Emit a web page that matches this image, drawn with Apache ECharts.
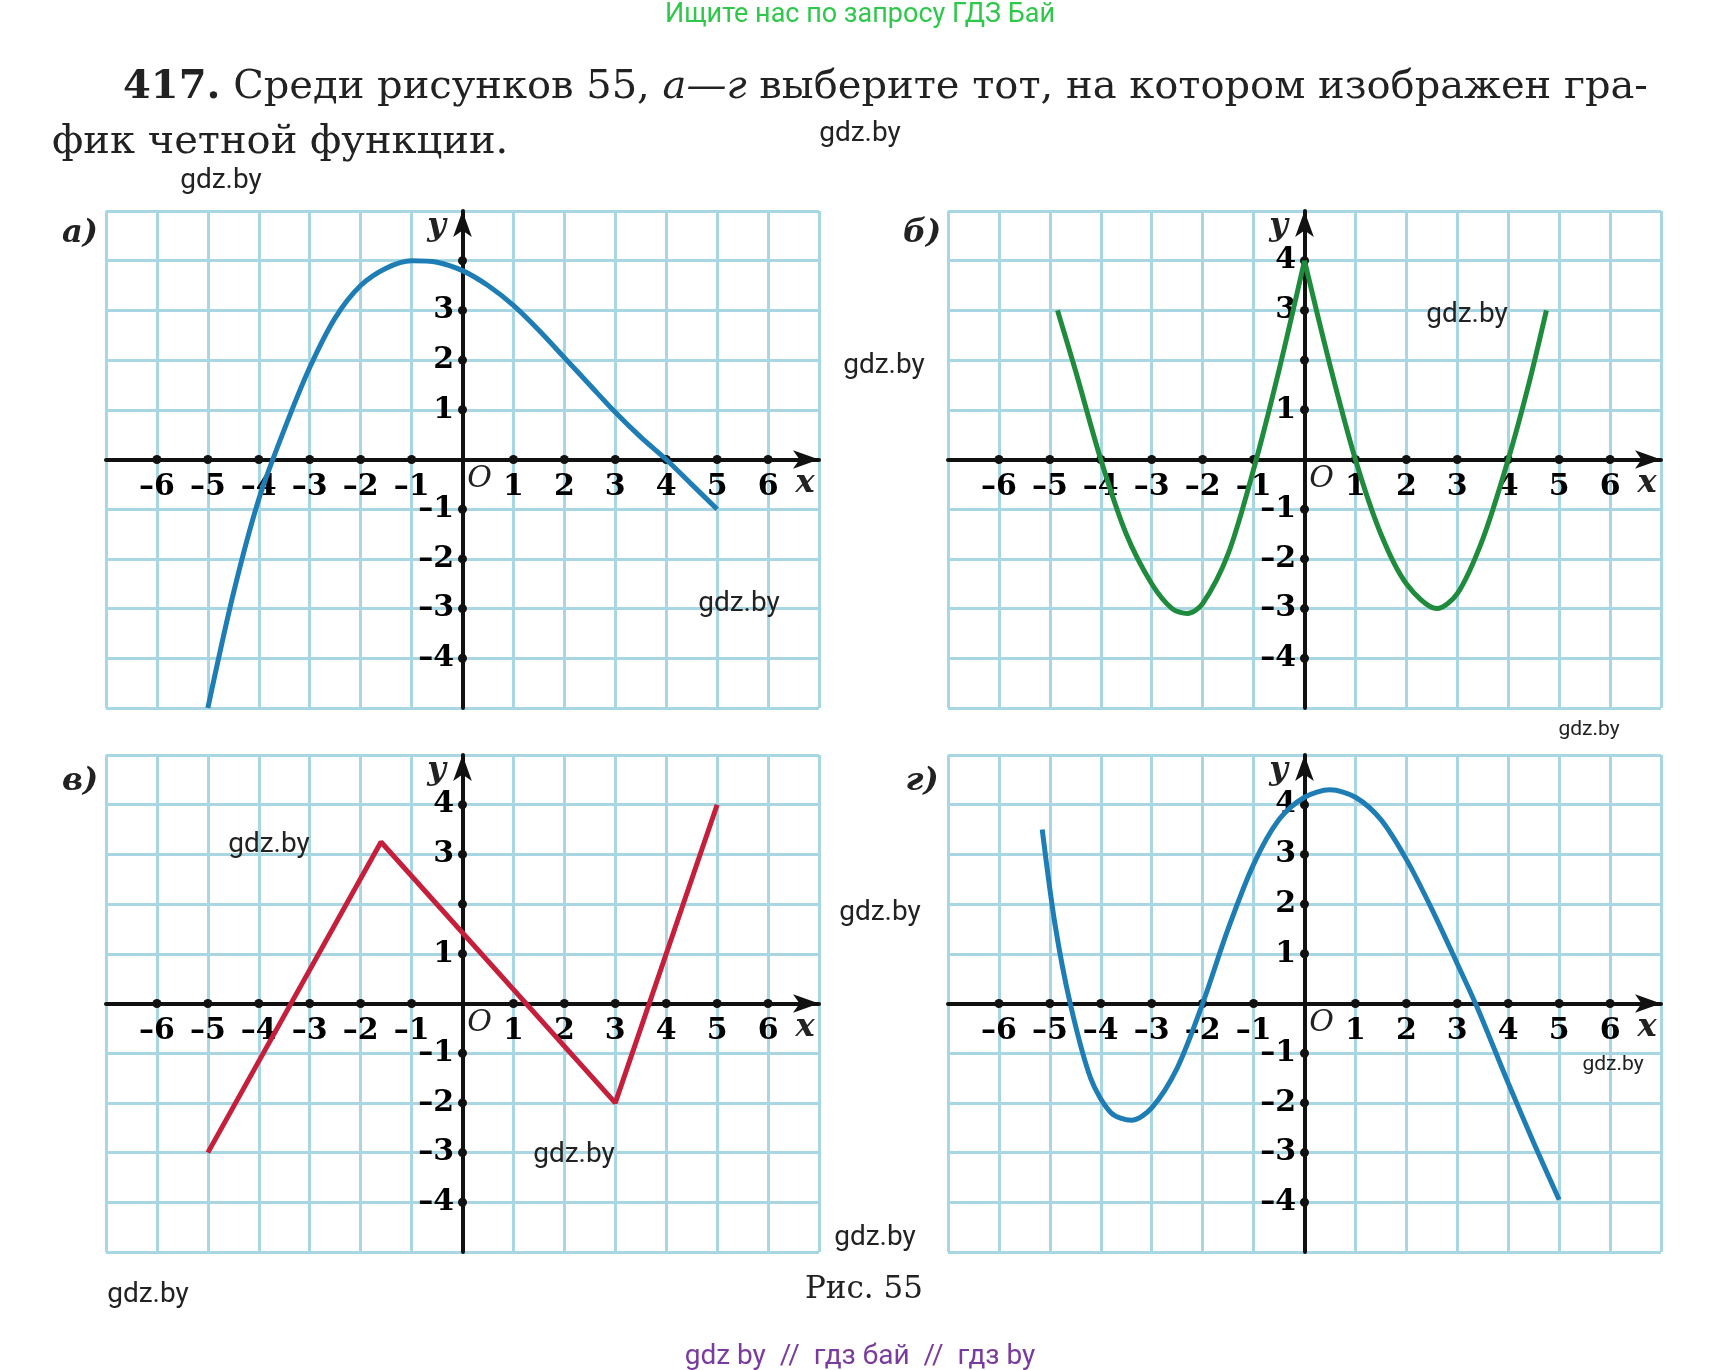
<!DOCTYPE html>
<html>
<head>
<meta charset="utf-8">
<title>Рис. 55</title>
<style>
body{margin:0;padding:0;background:#fff;}
#main{width:1713px;height:1370px;}
</style>
</head>
<body>
<div id="main"></div>
<script src="https://cdn.jsdelivr.net/npm/echarts@6/dist/echarts.min.js"></script>
<script>
// curves
var curveA = [[-5,-5],[-4.5,-2.7],[-4,-0.8],[-3.5,0.6],[-3,1.85],[-2.5,2.85],[-2,3.5],[-1.5,3.85],[-1,4.0],[-0.5,3.97],[0,3.8],[0.5,3.5],[1,3.1],[1.5,2.6],[2,2.05],[2.5,1.5],[3,0.95],[3.5,0.45],[4,0],[4.5,-0.5],[5,-1]];
var curveBleft = [[-4.85,3],[-4.5,1.8],[-4,0],[-3.5,-1.5],[-3,-2.5],[-2.6,-3.0],[-2.3,-3.1],[-2,-2.9],[-1.5,-1.9],[-1,-0.2],[-0.5,1.8],[0,4]];
var curveBright = [[0,4],[0.5,1.9],[1,0],[1.5,-1.5],[2,-2.5],[2.6,-3],[3,-2.7],[3.5,-1.6],[4,0],[4.4,1.5],[4.75,3]];
var curveC = [[-5,-3],[-1.6,3.25],[3,-2],[5,4]];
var curveD = [[-5.15,3.5],[-4.9,1.6],[-4.6,0],[-4.2,-1.5],[-3.8,-2.2],[-3.4,-2.35],[-3,-2.1],[-2.5,-1.3],[-2,0],[-1.5,1.5],[-1,2.8],[-0.5,3.7],[0,4.15],[0.5,4.3],[1,4.15],[1.5,3.7],[2,2.9],[2.5,1.9],[3,0.8],[3.4,-0.1],[4,-1.6],[4.5,-2.8],[5,-3.95]];
var ticksX = [-6,-5,-4,-3,-2,-1,1,2,3,4,5,6];
var ticksY = [-4,-3,-2,-1,1,2,3,4];
// hidden y labels per panel
var hideY = [[4],[2],[2],[]];

var myChart = echarts.init(document.getElementById('main'));
var grids = [
  {left:106, top:211, width:713, height:497},
  {left:948, top:211, width:713, height:497},
  {left:106, top:755, width:713, height:497},
  {left:948, top:755, width:713, height:497}
];
var labelFont = {fontFamily:'DejaVu Serif', fontWeight:'bold', fontSize:30, color:'#000', opacity:1};
var gridColor = '#a9d6e3';
function lbl(v){ return v<0 ? '–'+(-v) : ''+v; }
var xAxes=[], yAxes=[], series=[];
for(var i=0;i<4;i++){
  (function(i){
    var axisCommon = {
      gridIndex:i, type:'value', interval:1,
      axisLine:{onZero:true, symbol:['none','arrow'], symbolSize:[14,26], lineStyle:{color:'#111', width:4}},
      axisTick:{show:false},
      axisLabel:{show:false},
      splitLine:{lineStyle:{color:gridColor, width:3}},
      z:5
    };
    xAxes.push(Object.assign({min:-7, max:7}, axisCommon));
    yAxes.push(Object.assign({min:-5, max:5}, axisCommon));
    series.push({type:'scatter', xAxisIndex:i, yAxisIndex:i, symbolSize:9, itemStyle:{color:'#111', opacity:1}, z:6,
      label:Object.assign({show:true, position:'bottom', distance:8, formatter:function(p){ return lbl(p.value[0]); }}, labelFont),
      data:ticksX.map(function(t){return [t,0];})});
    series.push({type:'scatter', xAxisIndex:i, yAxisIndex:i, symbolSize:9, itemStyle:{color:'#111', opacity:1}, z:6,
      label:Object.assign({show:true, position:'left', distance:4, formatter:function(p){ var v=p.value[1]; return hideY[i].indexOf(v)>=0?'':lbl(v); }}, labelFont),
      data:ticksY.map(function(t){return [0,t];})});
  })(i);
}
function curve(idx, data, color, smooth){
  series.push({type:'line', xAxisIndex:idx, yAxisIndex:idx, data:data, smooth:smooth, showSymbol:false,
    lineStyle:{color:color, width:5}, z:7});
}
curve(0, curveA, '#1d7db4', 0.3);
curve(1, curveBleft, '#1f8b3c', 0.3);
curve(1, curveBright, '#1f8b3c', 0.3);
curve(2, curveC, '#c61f3c', false);
curve(3, curveD, '#1d7db4', 0.3);

function txt(x, y, s, style){
  return {type:'text', x:x, y:y, z:20, style:Object.assign({text:s, textAlign:'center', textVerticalAlign:'middle'}, style)};
}
var wm = {fontFamily:'Roboto', fontSize:28, fill:'#222'};
var wmSmall = {fontFamily:'Roboto', fontSize:21, fill:'#222'};
var head = {textAlign:'left', fontFamily:'DejaVu Serif', fontSize:40, fill:'#222',
  rich:{b:{fontFamily:'DejaVu Serif', fontSize:40, fontWeight:'bold'}, i:{fontFamily:'DejaVu Serif', fontSize:40, fontStyle:'italic'}}};
var graphic = [
  txt(860, 15, 'Ищите нас по запросу ГДЗ Бай', {fontFamily:'Roboto', fontSize:27, fill:'#2ec84a'}),
  txt(123, 88, '{b|417.} Среди рисунков 55, {i|а—г} выберите тот, на котором изображен гра-', head),
  txt(52, 143, 'фик четной функции.', head),
  txt(860, 134, 'gdz.by', wm), txt(221, 181, 'gdz.by', wm), txt(884, 366, 'gdz.by', wm),
  txt(739, 604, 'gdz.by', wm), txt(1467, 315, 'gdz.by', wm), txt(1589, 730, 'gdz.by', wmSmall),
  txt(269, 845, 'gdz.by', wm), txt(880, 913, 'gdz.by', wm), txt(574, 1155, 'gdz.by', wm),
  txt(1613, 1065, 'gdz.by', wmSmall), txt(875, 1238, 'gdz.by', wm), txt(148, 1295, 'gdz.by', wm),
  txt(864, 1290, 'Рис. 55', {fontFamily:'DejaVu Serif', fontSize:31, fill:'#222'}),
  txt(860, 1357, 'gdz by  //  гдз бай  //  гдз by', {fontFamily:'Roboto', fontSize:28, fill:'#7a3b9e'})
];
var panelLbl = ['а)','б)','в)','г)'];
var panelPos = [[80,234],[922,234],[80,782],[922,782]];
for(var k=0;k<4;k++){
  var g = grids[k];
  graphic.push(txt(panelPos[k][0], panelPos[k][1], panelLbl[k], {fontFamily:'DejaVu Serif', fontWeight:'bold', fontStyle:'italic', fontSize:32, fill:'#222'}));
  var ox = g.left + g.width/2, oy = g.top + g.height/2;
  graphic.push(txt(ox-26, g.top+16, 'y', {fontFamily:'DejaVu Serif', fontWeight:'bold', fontStyle:'italic', fontSize:32, fill:'#222'}));
  graphic.push(txt(g.left+g.width-14, oy+24, 'x', {fontFamily:'DejaVu Serif', fontWeight:'bold', fontStyle:'italic', fontSize:32, fill:'#222'}));
  graphic.push(txt(ox+17, oy+20, 'O', {fontFamily:'DejaVu Serif', fontStyle:'italic', fontSize:30, fill:'#222'}));
}

var option = {
  backgroundColor:'#fff',
  animation:false,
  grid:grids,
  xAxis:xAxes,
  yAxis:yAxes,
  series:series,
  graphic:graphic
};
myChart.setOption(option);
</script>
</body>
</html>
